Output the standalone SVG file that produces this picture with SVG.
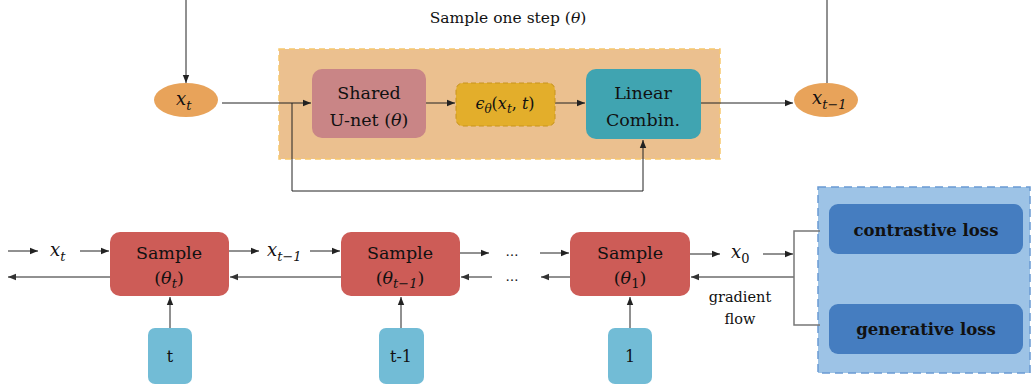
<svg xmlns="http://www.w3.org/2000/svg" width="1031" height="392" viewBox="0 0 1031 392">
<defs>
<marker id="ah" viewBox="0 0 10 10" refX="10" refY="5" markerWidth="8" markerHeight="8" markerUnits="userSpaceOnUse" orient="auto"><path d="M0,1 L10,5 L0,9 Z" fill="#222"/></marker>
<marker id="ahg" viewBox="0 0 10 10" refX="10" refY="5" markerWidth="8" markerHeight="8" markerUnits="userSpaceOnUse" orient="auto"><path d="M0,1 L10,5 L0,9 Z" fill="#333"/></marker>
</defs>
<style>
text{font-family:'DejaVu Serif',serif;fill:#111}
.m{font-style:italic}
.c{stroke:#222;stroke-width:1;fill:none}
.g{stroke:#777;stroke-width:1.5;fill:none}
.sample{fill:#CD5C57}
.step{fill:#72BCD6}
.ell{fill:#E8A35A}
.loss{fill:#457DC0}
.lbl{font-size:17.5px;text-anchor:middle}
</style>
<rect width="1031" height="392" fill="#fff"/>

<g id="step-container">
<rect x="279" y="49" width="441" height="110" fill="#EBC08F" stroke="#F7C86E" stroke-width="1.5" stroke-dasharray="6,4"/>
<text x="508" y="23" font-size="15.5" text-anchor="middle">Sample one step (<tspan font-style="italic">θ</tspan>)</text>
</g>

<g id="loss-container">
<rect x="818" y="187" width="212" height="186" fill="#9DC3E6" stroke="#6A9BD3" stroke-width="1.5" stroke-dasharray="8,5"/>
</g>

<g id="connectors">
<line class="c" x1="186" y1="0" x2="186" y2="83" marker-end="url(#ah)"/>
<line class="c" x1="222" y1="103" x2="311" y2="103" marker-end="url(#ah)"/>
<line class="c" x1="426" y1="103" x2="455" y2="103" marker-end="url(#ah)"/>
<line class="c" x1="555" y1="103" x2="585" y2="103" marker-end="url(#ah)"/>
<line class="c" x1="701" y1="103" x2="793" y2="103" marker-end="url(#ah)"/>
<line class="c" x1="827" y1="83" x2="827" y2="0"/>
<polyline class="c" stroke="#666" points="292,103 292,191 643,191 643,140" marker-end="url(#ah)"/>

<line class="c" x1="8" y1="251" x2="38" y2="251" marker-end="url(#ah)"/>
<line class="c" x1="80" y1="251" x2="109" y2="251" marker-end="url(#ah)"/>
<line class="c" x1="229" y1="251" x2="259" y2="251" marker-end="url(#ah)"/>
<line class="c" x1="310" y1="251" x2="340" y2="251" marker-end="url(#ah)"/>
<line class="c" x1="460" y1="253" x2="489" y2="253" marker-end="url(#ah)"/>
<line class="c" x1="540" y1="253" x2="569" y2="253" marker-end="url(#ah)"/>
<line class="c" x1="690" y1="254" x2="720" y2="254" marker-end="url(#ah)"/>
<line class="c" x1="763" y1="254" x2="793" y2="254" marker-end="url(#ah)"/>

<line class="c" stroke="#444" x1="110" y1="277" x2="8" y2="277" marker-end="url(#ahg)"/>
<line class="c" stroke="#444" x1="341" y1="277" x2="230" y2="277" marker-end="url(#ahg)"/>
<line class="c" stroke="#444" x1="492" y1="277" x2="461" y2="277" marker-end="url(#ahg)"/>
<line class="c" stroke="#444" x1="570" y1="277" x2="541" y2="277" marker-end="url(#ahg)"/>
<line class="c" stroke="#555" stroke-width="1.5" x1="794" y1="277" x2="691" y2="277" marker-end="url(#ahg)"/>
<polyline class="g" points="820,231 794,231 794,325 820,325"/>

<line class="c" stroke="#444" x1="170" y1="328" x2="170" y2="297" marker-end="url(#ah)"/>
<line class="c" stroke="#444" x1="401" y1="328" x2="401" y2="297" marker-end="url(#ah)"/>
<line class="c" stroke="#444" x1="630" y1="328" x2="630" y2="297" marker-end="url(#ah)"/>

<text class="m" x="50" y="256" font-size="18">x<tspan font-size="13" dy="5">t</tspan></text>
<text class="m" x="267" y="256" font-size="18">x<tspan font-size="13" dy="5">t−1</tspan></text>
<text x="512" y="256" font-size="13" text-anchor="middle" fill="#5a2b2b">…</text>
<text x="512" y="281" font-size="13" text-anchor="middle" fill="#5a2b2b">…</text>
<text class="m" x="731" y="258" font-size="18">x<tspan font-size="13" dy="5" font-style="normal">0</tspan></text>
<text x="740" y="302" font-size="14.5" text-anchor="middle">gradient</text>
<text x="740" y="324" font-size="14.5" text-anchor="middle">flow</text>
</g>

<g id="x-t">
<ellipse class="ell" cx="186" cy="100" rx="32" ry="17"/>
<text class="m" x="176" y="105" font-size="18">x<tspan font-size="13" dy="5">t</tspan></text>
</g>

<g id="shared-unet">
<rect x="312" y="69" width="114" height="69" rx="10" fill="#C98586"/>
<text class="lbl" x="369" y="99">Shared</text>
<text class="lbl" x="369" y="126">U-net (<tspan font-style="italic">θ</tspan>)</text>
</g>

<g id="epsilon">
<rect x="456" y="83" width="99" height="43" rx="7" fill="#E3AE2B" stroke="#C8941E" stroke-width="1" stroke-dasharray="5,3"/>
<text class="m" x="505" y="109" font-size="16" text-anchor="middle">ϵ<tspan font-size="12" dy="4">θ</tspan><tspan dy="-4" font-style="normal">(</tspan>x<tspan font-size="12" dy="4">t</tspan><tspan dy="-4" font-style="normal">, </tspan>t<tspan font-style="normal">)</tspan></text>
</g>

<g id="linear-combin">
<rect x="586" y="69" width="115" height="70" rx="10" fill="#40A4B1"/>
<text class="lbl" x="643" y="99">Linear</text>
<text class="lbl" x="643" y="126">Combin.</text>
</g>

<g id="x-t-1">
<ellipse class="ell" cx="826" cy="100" rx="32" ry="17"/>
<text class="m" x="812" y="104" font-size="18">x<tspan font-size="13" dy="5">t−1</tspan></text>
</g>

<g id="sample-t">
<rect class="sample" x="110" y="232" width="119" height="64" rx="10"/>
<text class="lbl" x="169" y="259">Sample</text>
<text class="lbl" x="169" y="284">(<tspan font-style="italic">θ</tspan><tspan font-style="italic" font-size="13" dy="4">t</tspan><tspan dy="-4">)</tspan></text>
</g>

<g id="sample-t-1">
<rect class="sample" x="341" y="232" width="119" height="64" rx="10"/>
<text class="lbl" x="400" y="259">Sample</text>
<text class="lbl" x="400" y="284">(<tspan font-style="italic">θ</tspan><tspan font-style="italic" font-size="13" dy="4">t−1</tspan><tspan dy="-4">)</tspan></text>
</g>

<g id="sample-1">
<rect class="sample" x="570" y="232" width="120" height="64" rx="10"/>
<text class="lbl" x="630" y="259">Sample</text>
<text class="lbl" x="630" y="284">(<tspan font-style="italic">θ</tspan><tspan font-size="13" dy="4">1</tspan><tspan dy="-4">)</tspan></text>
</g>

<g id="step-t">
<rect class="step" x="148" y="328" width="44" height="56" rx="7"/>
<text x="170" y="362" font-size="16" text-anchor="middle">t</text>
</g>
<g id="step-t-1">
<rect class="step" x="379" y="328" width="45" height="56" rx="7"/>
<text x="401" y="362" font-size="16" text-anchor="middle">t-1</text>
</g>
<g id="step-1">
<rect class="step" x="608" y="328" width="44" height="56" rx="7"/>
<text x="630" y="362" font-size="16" text-anchor="middle">1</text>
</g>

<g id="contrastive-loss">
<rect class="loss" x="829" y="204" width="194" height="50" rx="9"/>
<text x="926" y="236" font-size="16.5" font-weight="bold" text-anchor="middle">contrastive loss</text>
</g>
<g id="generative-loss">
<rect class="loss" x="829" y="304" width="194" height="50" rx="9"/>
<text x="926" y="335" font-size="16.5" font-weight="bold" text-anchor="middle">generative loss</text>
</g>
</svg>
